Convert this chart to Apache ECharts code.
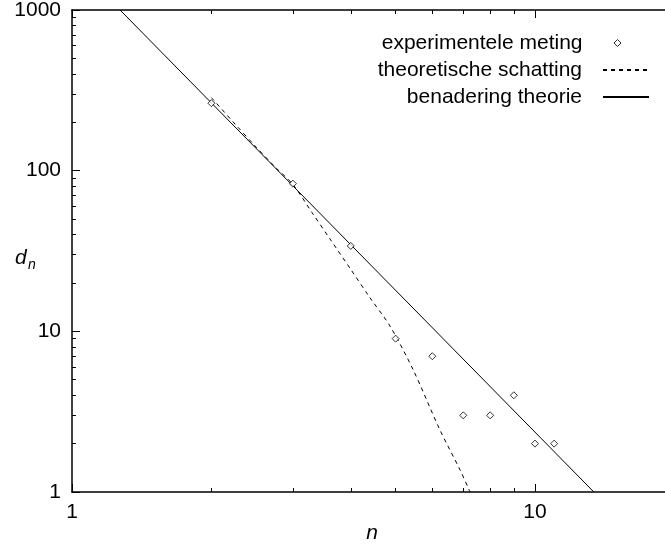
<!DOCTYPE html>
<html>
<head>
<meta charset="utf-8">
<script src="https://cdn.jsdelivr.net/npm/echarts@6/dist/echarts.min.js"></script>
<style>
  html, body { margin: 0; padding: 0; background: #fff; }
  #chart { width: 665px; height: 546px; }
</style>
</head>
<body>
<div id="chart"></div>
<script>
// measured values d_n for each n
const measuredN = [2, 3, 4, 5, 6, 7, 8, 9, 10, 11];
const measuredD = [263, 83, 34, 9, 7, 3, 3, 4, 2, 2];

// theoretical estimate
const estimateN = [2.0, 2.25, 2.5, 2.75, 3.0, 3.3, 3.6, 4.0, 4.4, 4.86, 5.45, 6.23, 6.89, 7.24];
const estimateD = [285, 195, 140, 105, 82, 54.8, 37.9, 24.3, 16.2, 10.8, 5.8, 2.44, 1.37, 1.0];

// power-law approximation (a straight line on log-log axes)
const approxN = [1.27, 13.4];
const approxD = [1000, 1];

// axis ranges (the n axis runs past the right edge of the canvas)
const nRange = [1, 100];
const dRange = [1, 1000];

const FONT = 'Liberation Sans';
const pairs = (xs, ys) => xs.map((x, i) => [x, ys[i]]);

function logAxis(position, range, labelOpts) {
  return {
    type: 'log', min: range[0], max: range[1], position: position,
    axisLine: { show: true, lineStyle: { color: '#000', width: 1.5 } },
    axisTick: { show: true, inside: true, length: 8, lineStyle: { color: '#000', width: 1 } },
    minorTick: { show: true, splitNumber: 9, length: 4, lineStyle: { color: '#000', width: 1 } },
    axisLabel: labelOpts
      ? Object.assign({ show: true, fontSize: 21, fontFamily: FONT, color: '#000', formatter: v => String(v) }, labelOpts)
      : { show: false },
    splitLine: { show: false }
  };
}

const xMain = logAxis('bottom', nRange, { margin: 10 });
xMain.name = 'n';
xMain.nameLocation = 'middle';
xMain.nameGap = 31;
xMain.nameMoveOverlap = false;
// right padding pulls the centred title back under the visible part of the axis
xMain.nameTextStyle = { fontStyle: 'italic', fontSize: 21, fontFamily: FONT, color: '#000', padding: [0, 326, 0, 0] };

const xTop = logAxis('top', nRange, null);
const yMain = logAxis('left', dRange, { margin: 11, padding: [7, 0, 0, 0] });

const legendText = (padRight) => ({
  fontSize: 21, fontFamily: FONT, color: '#000', lineHeight: 27, padding: [0, padRight, 0, 0]
});

const chart = echarts.init(document.getElementById('chart'));
chart.setOption({
  animation: false,
  grid: { left: 72, top: 10, right: -333, bottom: 54, outerBoundsMode: 'none' },
  xAxis: [xMain, xTop],
  yAxis: [yMain],
  // y-axis title d with subscript n
  graphic: [
    { type: 'text', left: 15, top: 248, style: { text: 'd', font: 'italic 21px "Liberation Sans"', fill: '#000' } },
    { type: 'text', left: 28, top: 258, style: { text: 'n', font: 'italic 14px "Liberation Sans"', fill: '#000' } }
  ],
  legend: [
    {
      data: ['experimentele meting'],
      orient: 'vertical', align: 'right', right: 43.5, top: 29.5,
      padding: 0, itemGap: 0, itemWidth: 7, itemHeight: 7,
      icon: 'diamond', selectedMode: false,
      itemStyle: { color: '#fff', borderColor: '#000', borderWidth: 1 },
      textStyle: legendText(26.5)
    },
    {
      data: ['theoretische schatting', 'benadering theorie'],
      orient: 'vertical', align: 'right', right: 15, top: 56.5,
      padding: 0, itemGap: 0, itemWidth: 46, itemHeight: 10,
      selectedMode: false,
      itemStyle: { opacity: 0 },
      textStyle: legendText(16)
    }
  ],
  series: [
    {
      name: 'experimentele meting',
      type: 'scatter',
      xAxisIndex: 0, yAxisIndex: 0,
      data: pairs(measuredN, measuredD),
      symbol: 'diamond',
      symbolSize: 7,
      itemStyle: { color: '#fff', borderColor: '#000', borderWidth: 1 },
      z: 5
    },
    {
      name: 'theoretische schatting',
      type: 'line',
      xAxisIndex: 0, yAxisIndex: 0,
      data: pairs(estimateN, estimateD),
      symbol: 'none',
      showSymbol: false,
      smooth: 0.3,
      lineStyle: { color: '#000', width: 1, type: [4, 4] },
      itemStyle: { color: '#000' },
      z: 3
    },
    {
      name: 'benadering theorie',
      type: 'line',
      xAxisIndex: 0, yAxisIndex: 0,
      data: pairs(approxN, approxD),
      symbol: 'none',
      showSymbol: false,
      lineStyle: { color: '#000', width: 1, type: 'solid' },
      itemStyle: { color: '#000' },
      z: 4
    }
  ]
});
</script>
</body>
</html>
